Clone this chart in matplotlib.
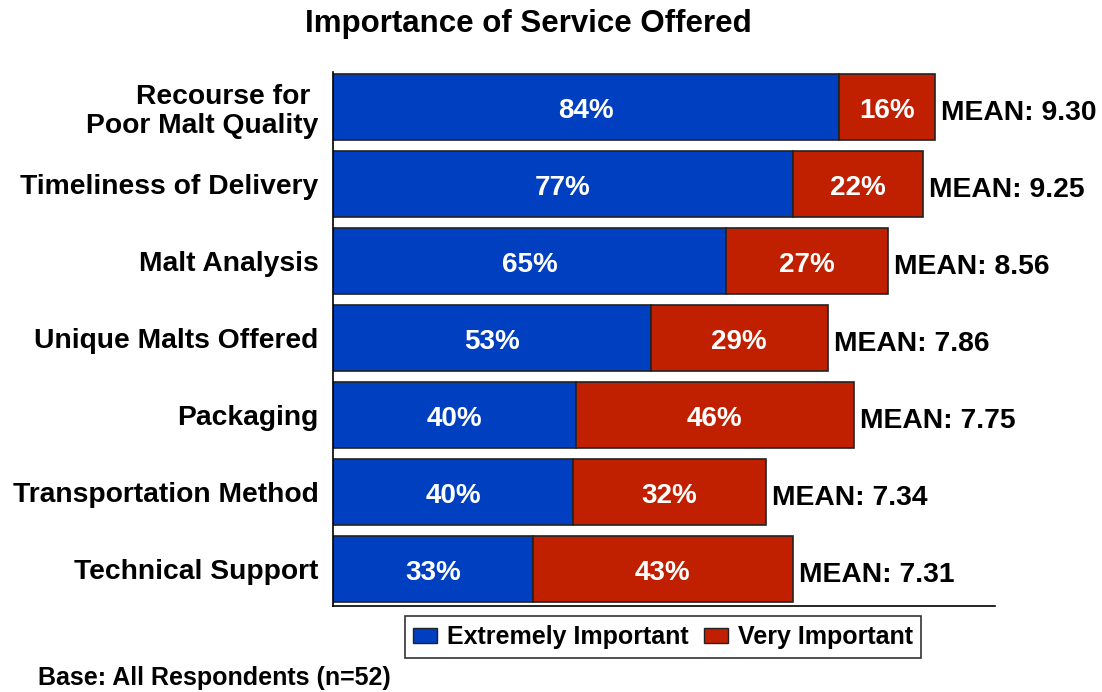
import matplotlib
matplotlib.use("Agg")
import matplotlib.pyplot as plt
from matplotlib.patches import Patch

categories = ["Recourse for \nPoor Malt Quality", "Timeliness of Delivery", "Malt Analysis",
              "Unique Malts Offered", "Packaging", "Transportation Method", "Technical Support"]
extremely = [84.0, 76.4, 65.3, 52.8, 40.4, 39.9, 33.2]
very = [16.0, 21.6, 26.9, 29.4, 46.1, 32.0, 43.2]
extremely_labels = ["84%", "77%", "65%", "53%", "40%", "40%", "33%"]
very_labels = ["16%", "22%", "27%", "29%", "46%", "32%", "43%"]
means = ["9.30", "9.25", "8.56", "7.86", "7.75", "7.34", "7.31"]

BLUE = "#0040C0"
RED = "#C02000"
FONT = "Liberation Sans"

fig = plt.figure(figsize=(11.02, 6.92), dpi=100)
ax = fig.add_axes([333/1102, 1-606/692, 662/1102, 534/692])

y = list(range(len(categories)))
ax.barh(y, extremely, height=0.86, color=BLUE, edgecolor="#222222", linewidth=1.2)
ax.barh(y, very, left=extremely, height=0.86, color=RED, edgecolor="#222222", linewidth=1.2)

for i in y:
    ax.text(extremely[i]/2, i + 0.05, extremely_labels[i], ha="center", va="center",
            color="white", fontsize=20, fontweight="bold", family=FONT)
    ax.text(extremely[i] + very[i]/2, i + 0.05, very_labels[i], ha="center", va="center",
            color="white", fontsize=20, fontweight="bold", family=FONT)
    ax.text(extremely[i] + very[i] + 1.0, i + 0.08, "MEAN: " + means[i], ha="left", va="center",
            color="black", fontsize=20.3, fontweight="bold", family=FONT)

ax.set_xlim(0, 110)
ax.set_ylim(6.48, -0.45)
ax.set_yticks(y)
ax.set_yticklabels(categories, fontsize=20.3, fontweight="bold", family=FONT, linespacing=1.15)
ax.set_xticks([])
ax.tick_params(axis="y", length=0, pad=10.5)
for s in ["top", "right"]:
    ax.spines[s].set_visible(False)
ax.spines["left"].set_linewidth(1.2)
ax.spines["bottom"].set_linewidth(1.2)

fig.text(528/1102, 1-24/692, "Importance of Service Offered", ha="center", va="center",
         fontsize=22.5, fontweight="bold", family=FONT)

handles = [Patch(facecolor=BLUE, edgecolor="#222222", label="Extremely Important"),
           Patch(facecolor=RED, edgecolor="#222222", label="Very Important")]
leg = fig.legend(handles=handles, loc="center", bbox_to_anchor=(663/1102, 1-637/692), ncol=2,
                 frameon=True, fancybox=False, edgecolor="black", handlelength=0.95, handleheight=0.55,
                 handletextpad=0.4, columnspacing=0.6, borderpad=0.35, borderaxespad=0,
                 prop={"family": FONT, "weight": "bold", "size": 18})
leg.get_frame().set_linewidth(1.2)

fig.text(38/1102, 1-678/692, "Base: All Respondents (n=52)", ha="left", va="center",
         fontsize=18, fontweight="bold", family=FONT)

fig.savefig("out.png", dpi=100)
